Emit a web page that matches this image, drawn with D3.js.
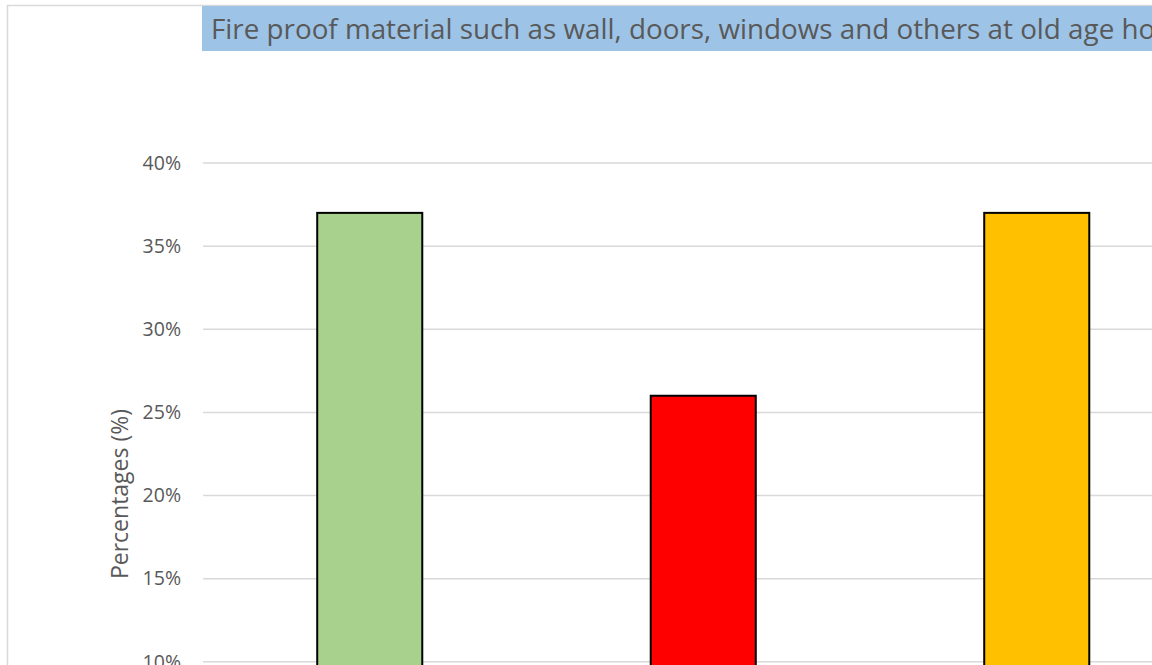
<!DOCTYPE html>
<html>
<head>
<meta charset="utf-8">
<script src="https://cdn.jsdelivr.net/npm/d3@7"></script>
<style>
  html, body { margin: 0; padding: 0; background: #fff; overflow: hidden; }
  svg { display: block; }
</style>
</head>
<body>
<svg id="chart" width="1152" height="665"></svg>
<script>
// ---- data ----
const categories = ["Yes", "No", "Not sure"];
const values = [37, 26, 37];
const barColors = ["#A9D18E", "#FF0000", "#FFC000"];
const yTicks = [0, 5, 10, 15, 20, 25, 30, 35, 40];
const titleText = "Fire proof material such as wall, doors, windows and others at old age homes";
const yAxisLabel = "Percentages (%)";

// ---- layout ----
const svg = d3.select("#chart");
const font = "'Open Sans', 'Noto Sans', sans-serif";
const plot = { left: 203, right: 1203.5, top: 163, bottom: 828 };

const x = d3.scaleBand()
  .domain(categories)
  .range([plot.left, plot.right])
  .paddingInner(0.685)
  .paddingOuter(0.3425);

const y = d3.scaleLinear()
  .domain([0, 40])
  .range([plot.bottom, plot.top]);

// outer chart frame
svg.append("rect")
  .attr("x", 7.5).attr("y", 5.5)
  .attr("width", 1400).attr("height", 1000)
  .attr("fill", "#fff")
  .attr("stroke", "#d9d9d9").attr("stroke-width", 1.5);

// title box
svg.append("rect")
  .attr("x", 202).attr("y", 6)
  .attr("width", 1200).attr("height", 45)
  .attr("fill", "#9DC3E6");

const title = svg.append("text")
  .attr("x", 211).attr("y", 38.5)
  .attr("fill", "#595959")
  .style("font-family", font)
  .style("font-size", "26px")
  .text(titleText);

// fit title font so that "...old age h" ends near right edge like the reference
(function fitTitle() {
  const probe = svg.append("text")
    .style("font-family", font).style("font-size", "26px")
    .text("Fire proof material such as wall, doors, windows and others at old age h");
  const w = probe.node().getComputedTextLength();
  probe.remove();
  const size = 26 * 928 / w;
  title.style("font-size", size + "px");
})();

// gridlines
svg.append("g")
  .selectAll("line")
  .data(yTicks)
  .join("line")
  .attr("x1", plot.left).attr("x2", plot.right)
  .attr("y1", d => y(d)).attr("y2", d => y(d))
  .attr("stroke", "#d9d9d9").attr("stroke-width", 1.5);

// y axis labels
const yAxis = d3.axisLeft(y)
  .tickValues(yTicks)
  .tickFormat(d => d + "%")
  .tickSize(0)
  .tickPadding(0);
const yg = svg.append("g")
  .attr("transform", `translate(181,0)`)
  .call(yAxis);
yg.select(".domain").remove();
yg.selectAll("text")
  .attr("fill", "#595959")
  .style("font-family", font)
  .style("font-size", "19.5px");

// y axis title
svg.append("text")
  .attr("transform", `translate(128,494) rotate(-90)`)
  .attr("text-anchor", "middle")
  .attr("fill", "#595959")
  .style("font-family", font)
  .style("font-size", "23px")
  .text(yAxisLabel);

// bars
svg.append("g")
  .selectAll("rect")
  .data(categories)
  .join("rect")
  .attr("x", d => x(d))
  .attr("y", (d, i) => y(values[i]))
  .attr("width", x.bandwidth())
  .attr("height", (d, i) => y(0) - y(values[i]))
  .attr("fill", (d, i) => barColors[i])
  .attr("stroke", "#000").attr("stroke-width", 2);

// x axis
const xg = svg.append("g")
  .attr("transform", `translate(0,${plot.bottom})`)
  .call(d3.axisBottom(x).tickSize(0).tickPadding(12));
xg.select(".domain").attr("stroke", "#d9d9d9");
xg.selectAll("text")
  .attr("fill", "#595959")
  .style("font-family", font)
  .style("font-size", "19.5px");
</script>
</body>
</html>
